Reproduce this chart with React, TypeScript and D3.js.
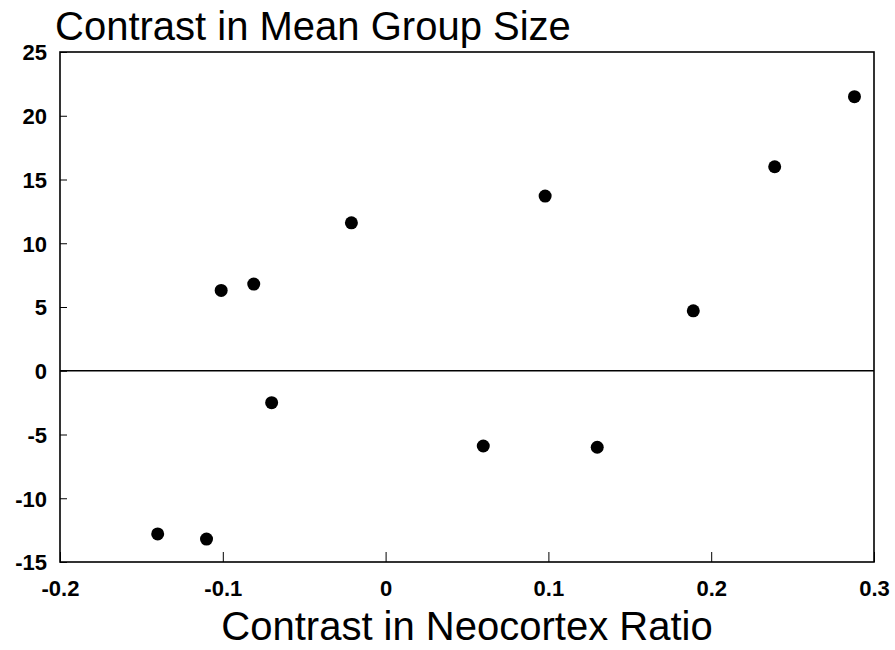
import { useRef, useEffect } from "react"
import * as d3 from "d3"

// contrast values
const neocortexContrast = [-0.14, -0.11, -0.101, -0.081, -0.07, -0.021, 0.06, 0.098, 0.13, 0.189, 0.239, 0.288]
const groupSizeContrast = [-12.8, -13.2, 6.3, 6.8, -2.5, 11.6, -5.9, 13.7, -6.0, 4.7, 16.0, 21.5]

const xTicks = [-0.2, -0.1, 0, 0.1, 0.2, 0.3]
const yTicks = [-15, -10, -5, 0, 5, 10, 15, 20, 25]

const App = () => {
  const svgRef = useRef<SVGSVGElement>(null)

  useEffect(() => {
    const svg = d3.select(svgRef.current)
    svg.selectAll("*").remove()

    const margin = { top: 52, right: 21, bottom: 88, left: 60 }
    const W = 895
    const H = 650
    const width = W - margin.left - margin.right
    const height = H - margin.top - margin.bottom
    const font = "'Liberation Sans', Arial, Helvetica, sans-serif"

    const x = d3.scaleLinear().domain([-0.2, 0.3]).range([0, width])
    const y = d3.scaleLinear().domain([-15, 25]).range([height, 0])

    const g = svg.append("g").attr("transform", `translate(${margin.left},${margin.top})`)

    // frame
    g.append("rect")
      .attr("x", 0)
      .attr("y", 0)
      .attr("width", width)
      .attr("height", height)
      .attr("fill", "none")
      .attr("stroke", "#000")
      .attr("stroke-width", 1.6)

    // zero line
    g.append("line")
      .attr("x1", 0)
      .attr("x2", width)
      .attr("y1", y(0))
      .attr("y2", y(0))
      .attr("stroke", "#000")
      .attr("stroke-width", 1.3)

    // y axis, ticks pointing in
    const yAxis = g.append("g").call(
      d3.axisLeft(y).tickValues(yTicks).tickSize(-7).tickPadding(13).tickFormat((d) => `${d}`)
    )
    yAxis.select(".domain").remove()
    yAxis.selectAll("text")
      .attr("font-family", font)
      .attr("font-size", 22)
      .attr("font-weight", "bold")
      .attr("fill", "#000")
      .attr("dy", "0.36em")

    // x axis, ticks pointing in
    const xAxis = g.append("g")
      .attr("transform", `translate(0,${height})`)
      .call(
        d3.axisBottom(x).tickValues(xTicks).tickSize(-10).tickPadding(18).tickFormat((d) => `${d}`)
      )
    xAxis.select(".domain").remove()
    xAxis.selectAll("text")
      .attr("font-family", font)
      .attr("font-size", 22)
      .attr("font-weight", "bold")
      .attr("fill", "#000")

    // points
    g.selectAll("circle")
      .data(neocortexContrast)
      .enter()
      .append("circle")
      .attr("cx", (d) => x(d))
      .attr("cy", (d, i) => y(groupSizeContrast[i]))
      .attr("r", 6.5)
      .attr("fill", "#000")

    // titles
    svg.append("text")
      .attr("x", 55)
      .attr("y", 40)
      .attr("font-family", font)
      .attr("font-size", 40)
      .attr("fill", "#000")
      .text("Contrast in Mean Group Size")

    svg.append("text")
      .attr("x", margin.left + width / 2)
      .attr("y", 640)
      .attr("text-anchor", "middle")
      .attr("font-family", font)
      .attr("font-size", 40)
      .attr("fill", "#000")
      .text("Contrast in Neocortex Ratio")
  }, [])

  return (
    <svg
      ref={svgRef}
      width={895}
      height={650}
      style={{ position: "absolute", left: 0, top: 0, background: "#fff" }}
    />
  )
}

export default App
